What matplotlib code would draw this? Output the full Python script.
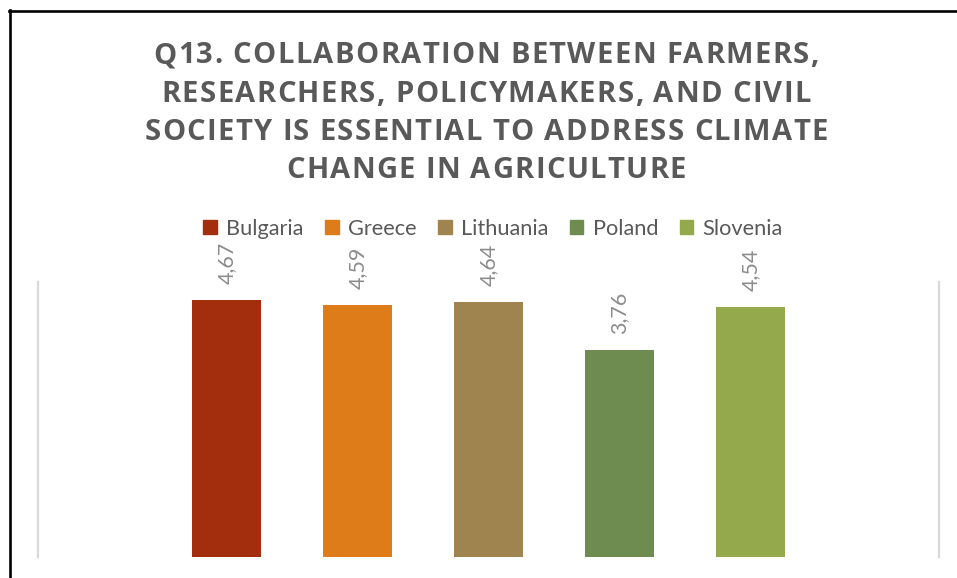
import matplotlib
matplotlib.use("Agg")
import matplotlib.pyplot as plt
from matplotlib.patches import Rectangle
from matplotlib.lines import Line2D
from matplotlib.font_manager import FontProperties, findfont, get_font

# ---- data ----
countries = ["Bulgaria", "Greece", "Lithuania", "Poland", "Slovenia"]
scores = [4.67, 4.59, 4.64, 3.76, 4.54]
colors = ["#A32E0E", "#DF7C1A", "#A0844F", "#6E8B50", "#93A94B"]
title_lines = [
    "Q13. COLLABORATION BETWEEN FARMERS,",
    "RESEARCHERS, POLICYMAKERS, AND CIVIL",
    "SOCIETY IS ESSENTIAL TO ADDRESS CLIMATE",
    "CHANGE IN AGRICULTURE",
]

W, H, DPI = 957, 578, 100
fig = plt.figure(figsize=(W / DPI, H / DPI), dpi=DPI)
fig.patch.set_facecolor("white")

def px(x, y):
    """pixel (from top-left) -> figure fraction"""
    return x / W, 1 - y / H

# plot area
ax_l, ax_r, ax_t, ax_b = 38, 939, 282, 557
ax = fig.add_axes([ax_l / W, 1 - ax_b / H, (ax_r - ax_l) / W, (ax_b - ax_t) / H])
xpos = list(range(len(countries)))
bars = ax.bar(xpos, scores, width=0.533, color=colors, label=countries)
ax.set_xlim(-1.44, len(countries) - 1 + 1.44)
ax.set_ylim(0, 5)
ax.set_xticks([])
ax.set_yticks([])
for side in ("top", "bottom"):
    ax.spines[side].set_visible(False)
for side in ("left", "right"):
    ax.spines[side].set_color("#d9d9d9")
    ax.spines[side].set_linewidth(1.6)

label_font = ["Lato", "DejaVu Sans"]
for b, v in zip(bars, scores):
    ax.annotate(f"{v:.2f}".replace(".", ","),
                xy=(b.get_x() + b.get_width() / 2, v),
                xytext=(0, 11.5), textcoords="offset points",
                rotation=90, ha="center", va="bottom",
                fontsize=15.5, color="#8c8c8c", family=label_font)

# legend
handles = [Rectangle((0, 0), 1, 1, color=c) for c in colors]
fig.legend(handles, countries, ncol=5, frameon=False,
           loc="center", bbox_to_anchor=px(493, 229),
           handlelength=0.62, handleheight=0.62, handletextpad=0.42,
           columnspacing=1.0, prop=FontProperties(family=label_font, size=15.7),
           labelcolor="#595959", borderpad=0)

# title with letter spacing
title_prop = FontProperties(family="Open Sans", weight="bold", size=21)
font = get_font(findfont(title_prop))
font.set_size(21, DPI)

def advance(ch):
    g = font.load_char(ord(ch))
    return g.linearHoriAdvance / 65536

tracking = 1.4
baselines = [63, 101.5, 140, 178]
xc = 486
for line, yb in zip(title_lines, baselines):
    adv = [advance(c) for c in line]
    total = sum(adv) + tracking * (len(line) - 1)
    x = xc - total / 2
    for ch, a in zip(line, adv):
        fig.text(*px(x, yb), ch, fontproperties=title_prop, color="#595959",
                 ha="left", va="baseline")
        x += a + tracking

# chart frame (top and left edges)
fig.add_artist(Line2D([10 / W, 10 / W], [0, 1 - 10 / H], transform=fig.transFigure,
                      color="black", lw=1.9))
fig.add_artist(Line2D([9 / W, 1], [1 - 11 / H, 1 - 11 / H], transform=fig.transFigure,
                      color="black", lw=1.9))

fig.savefig("out.png", dpi=DPI, facecolor="white")
